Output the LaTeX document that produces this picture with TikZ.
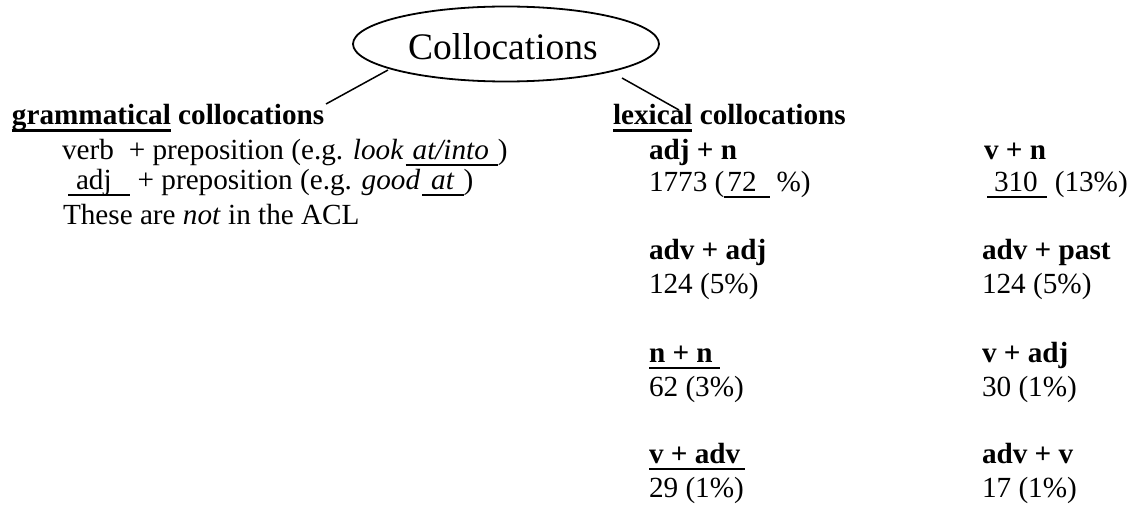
\documentclass[tikz,border=0pt]{standalone}
\usepackage{fontspec}
\setmainfont{Liberation Serif}
\usetikzlibrary{shapes.geometric}
\newcommand\ulthin[1]{\leavevmode\setbox0\hbox{#1}\rlap{\rule[-6.3pt]{\wd0}{2pt}}\box0\relax}
\newcommand\ulthick[1]{\leavevmode\setbox0\hbox{#1}\rlap{\rule[-7.3pt]{\wd0}{2.8pt}}\box0\relax}
\tikzset{
  txt/.style={anchor=base west, inner sep=0pt, outer sep=0pt, font=\fontsize{29.2}{34}\selectfont},
  conn/.style={line width=1.5pt},
}
\begin{document}
\begin{tikzpicture}[x=1pt,y=-1pt]
\useasboundingbox (0,0) rectangle (1130,505);
% central ellipse
\node[ellipse, draw, line width=1.8pt, minimum width=306pt, minimum height=75pt, inner sep=0pt] (ell) at (506,44) {};
\node[anchor=base, inner sep=0pt, font=\fontsize{37.5}{40}\selectfont] (ctext) at (503,60) {Collocations};
% left branch
\node[txt] (gram) at (12,125) {\textbf{\ulthick{grammatical} collocations}};
\node[txt] (g1) at (62,160) {verb\hspace{15pt}+ preposition (e.g. \textit{look}\hspace{2pt}\ulthin{\hspace{7pt}\textit{at/into}\hspace{9pt}})};
\node[txt] (g2) at (68,190) {\ulthin{\hspace{8pt}adj\hspace{18pt}}\hspace{8pt}+ preposition (e.g. \textit{good}\hspace{2pt}\ulthin{\hspace{9pt}\textit{at}\hspace{9pt}})};
\node[txt] (g3) at (63,225) {These are \textit{not} in the ACL};
% right branch
\node[txt] (lex) at (613,125) {\textbf{\ulthick{lexical} collocations}};
\node[txt] (h11) at (649,160) {\textbf{adj + n}};
\node[txt] (n11) at (649,192) {1773 (\ulthin{\hspace{3pt}72\hspace{13pt}}\hspace{7pt}\%)};
\node[txt] (h12) at (984,160) {\textbf{v + n}};
\node[txt] (n12) at (987,192) {\ulthin{\hspace{7pt}310\hspace{9pt}}\hspace{8pt}(13\%)};
\node[txt] (h21) at (649,260) {\textbf{adv + adj}};
\node[txt] (n21) at (649,293) {124 (5\%)};
\node[txt] (h22) at (982,260) {\textbf{adv + past}};
\node[txt] (n22) at (982,293) {124 (5\%)};
\node[txt] (h31) at (649,362) {\ulthick{\textbf{n + n}\hspace{7pt}}};
\node[txt] (n31) at (649,396) {62 (3\%)};
\node[txt] (h32) at (982,362) {\textbf{v + adj}};
\node[txt] (n32) at (982,396) {30 (1\%)};
\node[txt] (h41) at (649,463) {\ulthick{\textbf{v + adv}\hspace{5pt}}};
\node[txt] (n41) at (649,497) {29 (1\%)};
\node[txt] (h42) at (982,463) {\textbf{adv + v}};
\node[txt] (n42) at (982,497) {17 (1\%)};
% connectors
\coordinate (gs) at (388,70);
\coordinate (ge) at (326,104);
\coordinate (ls) at (622,78);
\coordinate (le) at (679,110);
\draw[conn] (gs) -- (ge);
\draw[conn] (ls) -- (le);
\end{tikzpicture}
\end{document}
